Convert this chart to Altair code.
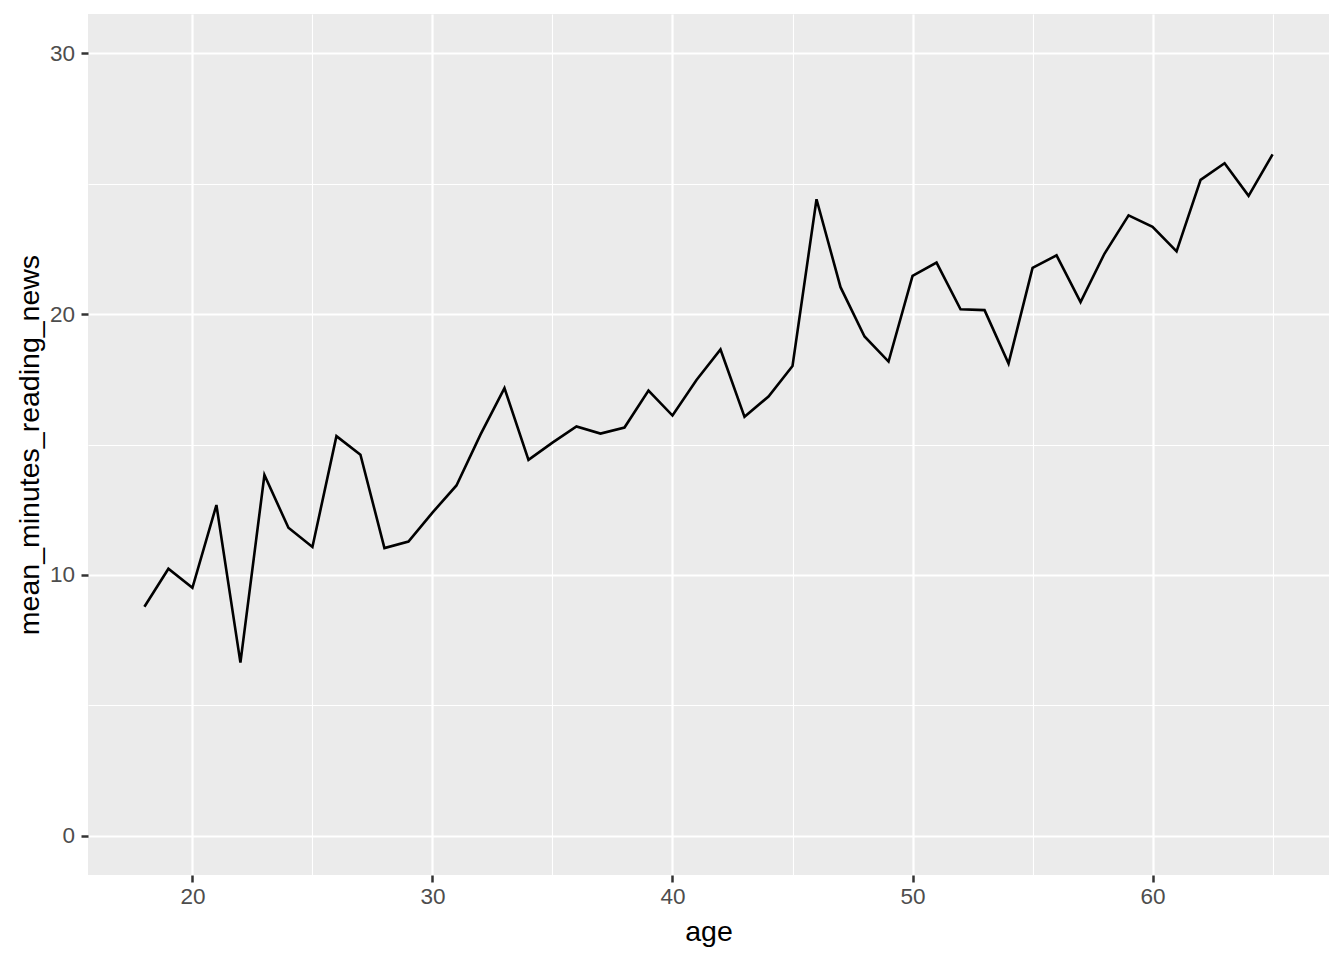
import altair as alt
import pandas as pd

ages = list(range(18, 66))
mean_minutes = [
    8.78, 10.24, 9.51, 12.68, 6.64, 13.83, 11.81, 11.07, 15.32, 14.61,
    11.03, 11.28, 12.39, 13.43, 15.38, 17.16, 14.41, 15.07, 15.69, 15.42,
    15.65, 17.07, 16.11, 17.47, 18.64, 16.06, 16.84, 18.01, 24.40, 21.03,
    19.14, 18.18, 21.46, 21.97, 20.18, 20.15, 18.10, 21.77, 22.25, 20.46,
    22.32, 23.78, 23.34, 22.40, 25.14, 25.78, 24.53, 26.12,
]

x_tick_values = [20, 25, 30, 35, 40, 45, 50, 55, 60, 65]
y_tick_values = [0, 5, 10, 15, 20, 25, 30]

df = pd.DataFrame({"age": ages, "mean_minutes_reading_news": mean_minutes})

FONT = "Liberation Sans"
LABEL_SIZE = 22.5
TITLE_SIZE = 28.5

common = dict(
    labelExpr="datum.value % 10 == 0 ? datum.label : ''",
    grid=True,
    gridColor="white",
    gridWidth={"condition": {"test": "datum.value % 10 == 0", "value": 2.2}, "value": 1.1},
    tickOpacity={"condition": {"test": "datum.value % 10 == 0", "value": 1}, "value": 0},
    tickColor="#333333",
    tickWidth=2.5,
    tickSize=7,
    domain=False,
    labelColor="#4D4D4D",
    labelFont=FONT,
    labelFontSize=LABEL_SIZE,
    titleFont=FONT,
    titleFontSize=TITLE_SIZE,
    titleFontWeight="normal",
    titleColor="black",
)

x_axis = alt.Axis(values=x_tick_values, labelPadding=3.5, titlePadding=9, **common)
y_axis = alt.Axis(values=y_tick_values, labelPadding=6.5, titlePadding=5, **common)

chart = (
    alt.Chart(df)
    .mark_line(color="black", strokeWidth=2.6)
    .encode(
        x=alt.X("age:Q", scale=alt.Scale(domain=[15.65, 67.35], nice=False, zero=False), axis=x_axis),
        y=alt.Y(
            "mean_minutes_reading_news:Q",
            scale=alt.Scale(domain=[-1.5, 31.5], nice=False, zero=False),
            axis=y_axis,
        ),
    )
    .properties(
        width=1241,
        height=861,
        autosize=alt.AutoSizeParams(type="none"),
        padding={"left": 80, "top": 6, "right": 5, "bottom": 77},
        background="white",
    )
    .configure_view(fill="#EBEBEB", stroke=None)
)

chart.save("out.html", embed_options={"renderer": "svg", "actions": False})
